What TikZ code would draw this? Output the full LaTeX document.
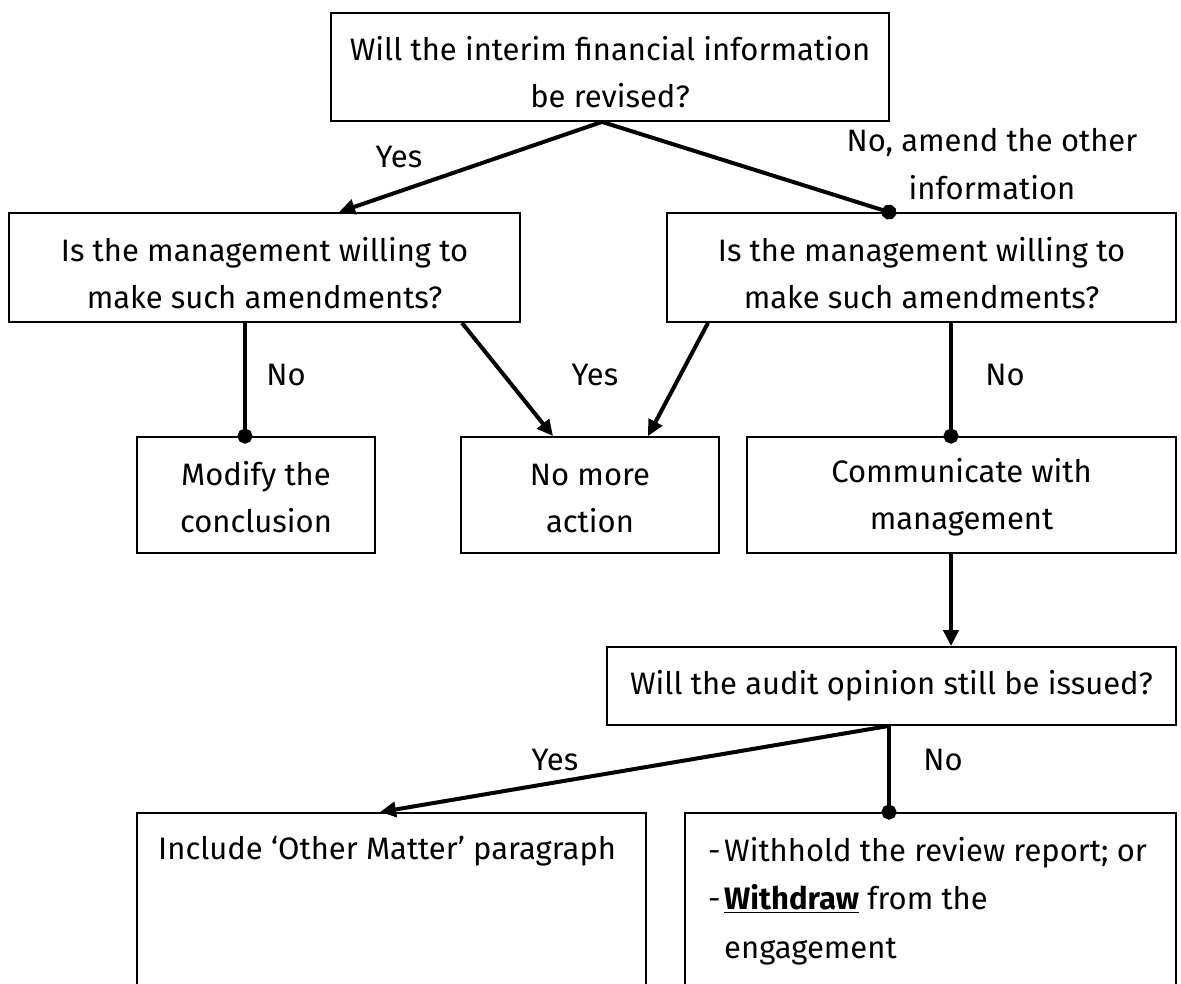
\documentclass[tikz,border=0pt]{standalone}
\usepackage{fontspec}
\setmainfont{Fira Sans}
\usetikzlibrary{arrows.meta}

\newcommand\flowfont{\fontsize{31}{47}\selectfont}
% taller first line so that two-line texts sit a little below the box centre
\newcommand\firstline{\rule{0pt}{35pt}}
\newcommand\firstlow{\rule{0pt}{29pt}}

\tikzset{
  box/.style={draw, line width=1.8pt, rectangle, inner sep=0pt, align=center, font=\flowfont},
  lbl/.style={inner sep=0pt, align=center, font=\flowfont},
  conn/.style={line width=4pt},
  toarrow/.style={conn, -{Triangle[length=16pt,width=15pt]}},
  todot/.style={conn, -{Circle[length=15pt]}, shorten >=-7.5pt},
}

\begin{document}
\begin{tikzpicture}[x=1pt,y=-1pt]
  \useasboundingbox (0,0) rectangle (1181,984);
  \clip (0,0) rectangle (1181,984);

  % decision and action boxes
  \node[box, minimum width=558pt, minimum height=108pt] (top) at (610,67)
    {\firstline Will the interim financial information\\be revised?};
  \node[box, minimum width=511pt, minimum height=109pt] (lq) at (264.5,267.5)
    {\firstline Is the management willing to\\make such amendments?};
  \node[box, minimum width=509pt, minimum height=109pt] (rq) at (921.5,267.5)
    {\firstline Is the management willing to\\make such amendments?};
  \node[box, minimum width=238pt, minimum height=116pt] (mod) at (256,495)
    {\firstlow Modify the\\conclusion};
  \node[box, minimum width=258pt, minimum height=116pt] (nomore) at (590,495)
    {\firstlow No more\\action};
  \node[box, minimum width=429pt, minimum height=116pt] (comm) at (961.5,495)
    {\firstlow Communicate with\\management};
  \node[box, minimum width=569pt, minimum height=78pt] (audit) at (891.5,686)
    {Will the audit opinion still be issued?};
  \node[box, minimum width=509pt, minimum height=187pt] (incl) at (391.5,906.5) {};
  \node[box, minimum width=491pt, minimum height=187pt] (wdraw) at (930.5,906.5) {};

  % texts set at the top of the two lower boxes
  \node[lbl, anchor=base west] (incltext) at (158,859) {Include ‘Other Matter’ paragraph};
  \node[lbl, anchor=north west, align=left,
        font=\fontsize{31}{48.5}\selectfont] (wdrawtext) at (708,837)
    {\makebox[16pt][l]{-}Withhold the review report; or\\
     \makebox[16pt][l]{-}\underline{\textbf{Withdraw}} from the\\
     \hspace*{16pt}engagement};

  % connectors
  \draw[toarrow] ([xshift=-8pt]top.south) -- ([xshift=74.5pt]lq.north);
  \draw[todot]   ([xshift=-8pt]top.south) -- ([xshift=-32.5pt]rq.north);
  \draw[todot]   ([xshift=-19.5pt]lq.south) -- ([xshift=-11pt]mod.north);
  \draw[toarrow] ([xshift=197.5pt]lq.south) -- ([xshift=-37pt]nomore.north);
  \draw[toarrow] ([xshift=-213.5pt]rq.south) -- ([xshift=58pt]nomore.north);
  \draw[todot]   ([xshift=29.5pt]rq.south) -- ([xshift=-10.5pt]comm.north);
  \draw[toarrow] ([xshift=-10.5pt]comm.south) -- ([xshift=59.5pt]audit.north);
  \draw[toarrow] ([xshift=-2.5pt]audit.south) -- ([xshift=-11.5pt]incl.north);
  \draw[todot]   ([xshift=-2.5pt]audit.south) -- ([xshift=-41.5pt]wdraw.north);

  % branch labels
  \node[lbl] (yesA) at (399,157) {Yes};
  \node[lbl, font=\fontsize{31}{48}\selectfont] (noA) at (992,164) {No, amend the other\\information};
  \node[lbl] (noB) at (286,375) {No};
  \node[lbl] (yesB) at (595,375) {Yes};
  \node[lbl] (noC) at (1005,375) {No};
  \node[lbl] (yesC) at (555,760) {Yes};
  \node[lbl] (noD) at (943,760) {No};
\end{tikzpicture}
\end{document}
